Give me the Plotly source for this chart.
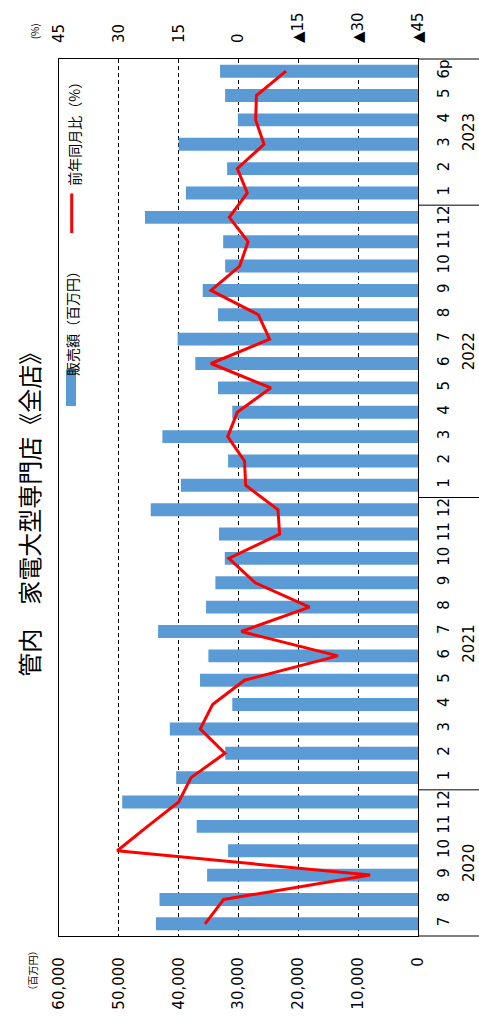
import plotly.graph_objects as go

# Month categories from 2020/7 to 2023/6 (bottom to top)
categories = [
    "2020-07", "2020-08", "2020-09", "2020-10", "2020-11", "2020-12",
    "2021-01", "2021-02", "2021-03", "2021-04", "2021-05", "2021-06",
    "2021-07", "2021-08", "2021-09", "2021-10", "2021-11", "2021-12",
    "2022-01", "2022-02", "2022-03", "2022-04", "2022-05", "2022-06",
    "2022-07", "2022-08", "2022-09", "2022-10", "2022-11", "2022-12",
    "2023-01", "2023-02", "2023-03", "2023-04", "2023-05", "2023-06",
]
month_labels = [
    "7", "8", "9", "10", "11", "12",
    "1", "2", "3", "4", "5", "6", "7", "8", "9", "10", "11", "12",
    "1", "2", "3", "4", "5", "6", "7", "8", "9", "10", "11", "12",
    "1", "2", "3", "4", "5", "6p",
]
# year label -> position (category index of group centre)
year_labels = ["2020", "2021", "2022", "2023"]
year_centres = [2.5, 11.5, 23.5, 32.5]
year_breaks = [5.5, 17.5, 29.5]

# 販売額（百万円）
sales = [
    43800, 43200, 35250, 31740, 36990, 49430,
    40420, 32220, 41480, 31040, 36430, 35030,
    43440, 35420, 33860, 32290, 33260, 44670,
    39630, 31740, 42720, 31040, 33430, 37220,
    40180, 33430, 35980, 32230, 32560, 45630,
    38790, 31900, 40000, 30100, 32230, 33080,
]
# 前年同月比（%）
yoy = [
    8.4, 3.7, -33.0, 30.4, 22.8, 15.0,
    11.9, 3.4, 9.6, 6.5, -1.5, -24.9,
    -0.7, -17.8, -4.2, 2.4, -10.3, -9.9,
    -1.8, -1.5, 2.7, 0.3, -8.1, 6.9,
    -7.8, -5.0, 6.9, -0.3, -2.4, 2.3,
    -2.2, 0.3, -6.4, -4.3, -4.5, -11.9,
]

sales_ticks = [0, 10000, 20000, 30000, 40000, 50000, 60000]
pct_ticks = [45, 30, 15, 0, -15, -30, -45]
pct_tick_text = ["45", "30", "15", "0", "▲15", "▲30", "▲45"]

W, H = 479, 1022
ML, MR, MT, MB = 59, 61, 55, 80
PW, PH = W - ML - MR, H - MT - MB


def px(xp):
    return (xp - ML) / PW


def py(yp):
    return (H - MB - yp) / PH


BLUE = "#5B9BD5"
RED = "#FF0000"
NUM_FONT = "DejaVu Sans, Noto Sans CJK JP"
JP_FONT = "Noto Sans CJK JP"

fig = go.Figure()
fig.add_trace(go.Bar(
    y=categories, x=sales, orientation="h",
    marker=dict(color=BLUE, line=dict(width=0)),
    xaxis="x", yaxis="y", showlegend=False,
))
fig.add_trace(go.Scatter(
    y=categories, x=yoy, mode="lines",
    line=dict(color=RED, width=3),
    xaxis="x2", yaxis="y", showlegend=False,
))

shapes = []
# group separators for the two-level category axis
for b in year_breaks:
    shapes.append(dict(type="line", xref="paper", yref="y",
                       x0=1, x1=px(W), y0=b, y1=b,
                       line=dict(color="black", width=1)))
for yv in (0, 1):
    shapes.append(dict(type="line", xref="paper", yref="paper",
                       x0=1, x1=px(W), y0=yv, y1=yv,
                       line=dict(color="black", width=1)))
# legend marks
shapes.append(dict(type="rect", xref="paper", yref="paper",
                   x0=px(66), x1=px(76), y0=py(406), y1=py(369),
                   fillcolor=BLUE, line=dict(width=0)))
shapes.append(dict(type="line", xref="paper", yref="paper",
                   x0=px(71.7), x1=px(71.7), y0=py(231), y1=py(191),
                   line=dict(color=RED, width=3)))

annotations = [
    dict(text="管内\u3000家電大型専門店《全店》", textangle=-90,
         xref="paper", yref="paper", x=px(29), y=py(510),
         xanchor="center", yanchor="middle", showarrow=False,
         font=dict(family=JP_FONT, size=24, color="black")),
    dict(text="(%)", textangle=-90,
         xref="paper", yref="paper", x=px(34), y=py(27),
         xanchor="center", yanchor="middle", showarrow=False,
         font=dict(family=JP_FONT, size=10, color="black")),
    dict(text="（百万円）", textangle=-90,
         xref="paper", yref="paper", x=px(33), y=py(977),
         xanchor="center", yanchor="middle", showarrow=False,
         font=dict(family=JP_FONT, size=10, color="black")),
    dict(text="販売額（百万円）", textangle=-90,
         xref="paper", yref="paper", x=px(72), y=py(319),
         xanchor="center", yanchor="middle", showarrow=False,
         font=dict(family=JP_FONT, size=14, color="black")),
    dict(text="前年同月比（%）", textangle=-90,
         xref="paper", yref="paper", x=px(74.5), y=py(127),
         xanchor="center", yanchor="middle", showarrow=False,
         font=dict(family=JP_FONT, size=14, color="black")),
]
for lab, c in zip(year_labels, year_centres):
    annotations.append(dict(text=lab, textangle=-90,
                            xref="paper", yref="y", x=px(469), y=c,
                            xanchor="center", yanchor="middle", showarrow=False,
                            font=dict(family=NUM_FONT, size=15, color="black")))

fig.update_layout(
    width=W, height=H,
    margin=dict(l=ML, r=MR, t=MT, b=MB, pad=0),
    paper_bgcolor="white", plot_bgcolor="white",
    bargap=0.47,
    showlegend=False,
    font=dict(family=NUM_FONT, size=15, color="black"),
    xaxis=dict(
        range=[60000, 0], tickvals=sales_ticks, tickformat=",",
        tickangle=-90, side="bottom",
        showgrid=True, gridcolor="black", gridwidth=1, griddash="4px,3px",
        zeroline=False, showline=True, mirror=True,
        linecolor="black", linewidth=1.3, ticks="",
        ticklabelstandoff=14,
    ),
    xaxis2=dict(
        overlaying="x", side="top", anchor="y",
        range=[45, -45], tickvals=pct_ticks, ticktext=pct_tick_text,
        tickangle=-90, showgrid=False, zeroline=False, showline=False,
        ticks="", ticklabelstandoff=15,
    ),
    yaxis=dict(
        type="category", categoryorder="array", categoryarray=categories,
        range=[-0.5, len(categories) - 0.5],
        tickvals=categories, ticktext=month_labels,
        side="right", tickangle=-90,
        showgrid=False, zeroline=False, showline=True, mirror=True,
        linecolor="black", linewidth=1.3, ticks="",
        ticklabelstandoff=12,
    ),
    shapes=shapes, annotations=annotations,
)

fig.write_html("out.html")
